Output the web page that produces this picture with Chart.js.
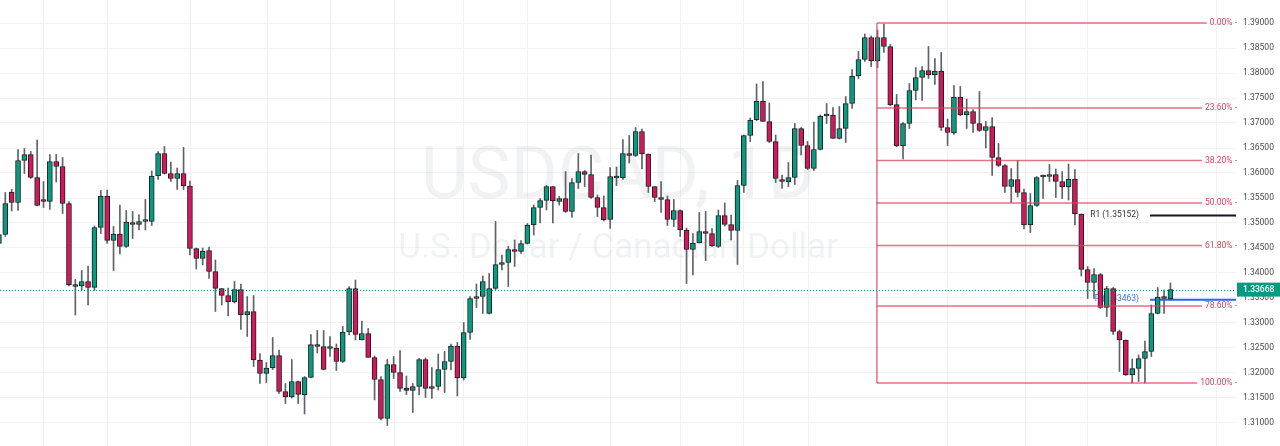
<!DOCTYPE html>
<html>
<head>
<meta charset="utf-8">
<title>USDCAD, 1D</title>
<script src="https://cdn.jsdelivr.net/npm/chart.js@4.4.1/dist/chart.umd.min.js"></script>
<style>
  html, body { margin: 0; padding: 0; background: #fff; overflow: hidden; }
  #wrap { width: 1280px; height: 446px; }
</style>
</head>
<body>
<div id="wrap"><canvas id="chart" width="1280" height="446"></canvas></div>
<script>
// --- DATA (daily candles, left to right) ---
const opens = [
  1.3459, 1.3477, 1.3562, 1.3541, 1.3625, 1.3637, 1.3591, 1.3546, 1.3543, 1.3623,
  1.3613, 1.3539, 1.3377, 1.3374, 1.3383, 1.3371, 1.3491, 1.3554, 1.3465, 1.3478,
  1.3453, 1.3501, 1.3497, 1.3503, 1.3503, 1.3594, 1.3639, 1.3599, 1.3589, 1.3599,
  1.3574, 1.3449, 1.3429, 1.3445, 1.3403, 1.3369, 1.3355, 1.3342, 1.3367, 1.3316,
  1.3323, 1.3226, 1.3199, 1.3210, 1.3235, 1.3163, 1.3152, 1.3183, 1.3156, 1.3191,
  1.3257, 1.3253, 1.3249, 1.3250, 1.3223, 1.3282, 1.3369, 1.3266, 1.3279, 1.3231,
  1.3187, 1.3109, 1.3217, 1.3201, 1.3170, 1.3165, 1.3173, 1.3227, 1.3169, 1.3173,
  1.3207, 1.3223, 1.3254, 1.3190, 1.3281, 1.3349, 1.3353, 1.3319, 1.3369, 1.3417,
  1.3421, 1.3447, 1.3443, 1.3459, 1.3496, 1.3531, 1.3545, 1.3573, 1.3543, 1.3549,
  1.3523, 1.3581, 1.3603, 1.3597, 1.3551, 1.3531, 1.3507, 1.3590, 1.3590, 1.3639,
  1.3635, 1.3683, 1.3638, 1.3573, 1.3551, 1.3547, 1.3507, 1.3525, 1.3486, 1.3447,
  1.3460, 1.3483, 1.3479, 1.3453, 1.3515, 1.3497, 1.3485, 1.3575, 1.3675, 1.3706,
  1.3744, 1.3703, 1.3663, 1.3587, 1.3582, 1.3591, 1.3689, 1.3655, 1.3609, 1.3647,
  1.3714, 1.3716, 1.3669, 1.3689, 1.3739, 1.3794, 1.3827, 1.3871, 1.3824, 1.3871,
  1.3853, 1.3737, 1.3654, 1.3699, 1.3765, 1.3791, 1.3805, 1.3796, 1.3804, 1.3691,
  1.3680, 1.3752, 1.3716, 1.3723, 1.3699, 1.3685, 1.3693, 1.3631, 1.3615, 1.3573,
  1.3587, 1.3561, 1.3496, 1.3535, 1.3592, 1.3593, 1.3597, 1.3583, 1.3572, 1.3588,
  1.3518, 1.3407, 1.3381, 1.3397, 1.3331, 1.3369, 1.3283, 1.3266, 1.3196, 1.3209,
  1.3229, 1.3243, 1.3319, 1.3352, 1.3348
];
const highs = [
  1.3486, 1.3561, 1.3567, 1.3647, 1.3649, 1.3643, 1.3666, 1.3583, 1.3637, 1.3637,
  1.3631, 1.3543, 1.3387, 1.3405, 1.3414, 1.3494, 1.3565, 1.3566, 1.3493, 1.3536,
  1.3525, 1.3523, 1.3517, 1.3547, 1.3604, 1.3643, 1.3653, 1.3622, 1.3610, 1.3651,
  1.3584, 1.3450, 1.3450, 1.3452, 1.3426, 1.3369, 1.3370, 1.3383, 1.3378, 1.3353,
  1.3355, 1.3239, 1.3221, 1.3271, 1.3246, 1.3179, 1.3227, 1.3184, 1.3193, 1.3277,
  1.3285, 1.3285, 1.3273, 1.3258, 1.3293, 1.3373, 1.3386, 1.3304, 1.3289, 1.3234,
  1.3193, 1.3227, 1.3233, 1.3245, 1.3194, 1.3179, 1.3229, 1.3230, 1.3211, 1.3238,
  1.3243, 1.3258, 1.3261, 1.3301, 1.3353, 1.3378, 1.3394, 1.3399, 1.3503, 1.3436,
  1.3453, 1.3466, 1.3465, 1.3499, 1.3536, 1.3549, 1.3575, 1.3573, 1.3553, 1.3603,
  1.3589, 1.3639, 1.3605, 1.3636, 1.3556, 1.3554, 1.3611, 1.3612, 1.3667, 1.3675,
  1.3691, 1.3688, 1.3638, 1.3573, 1.3583, 1.3554, 1.3547, 1.3526, 1.3490, 1.3479,
  1.3521, 1.3523, 1.3489, 1.3526, 1.3540, 1.3516, 1.3585, 1.3676, 1.3710, 1.3778,
  1.3783, 1.3740, 1.3676, 1.3596, 1.3621, 1.3699, 1.3691, 1.3663, 1.3702, 1.3716,
  1.3739, 1.3731, 1.3733, 1.3753, 1.3807, 1.3843, 1.3878, 1.3874, 1.3886, 1.3898,
  1.3857, 1.3757, 1.3701, 1.3779, 1.3811, 1.3813, 1.3853, 1.3829, 1.3841, 1.3708,
  1.3775, 1.3773, 1.3748, 1.3727, 1.3763, 1.3703, 1.3711, 1.3659, 1.3617, 1.3609,
  1.3625, 1.3568, 1.3559, 1.3593, 1.3596, 1.3617, 1.3608, 1.3603, 1.3618, 1.3607,
  1.3518, 1.3413, 1.3409, 1.3399, 1.3373, 1.3371, 1.3286, 1.3266, 1.3228, 1.3236,
  1.3264, 1.3336, 1.3371, 1.3366, 1.3380
];
const lows = [
  1.3456, 1.3473, 1.3524, 1.3525, 1.3599, 1.3589, 1.3534, 1.3531, 1.3527, 1.3582,
  1.3519, 1.3374, 1.3316, 1.3366, 1.3336, 1.3365, 1.3479, 1.3459, 1.3405, 1.3438,
  1.3451, 1.3469, 1.3486, 1.3486, 1.3495, 1.3587, 1.3598, 1.3583, 1.3567, 1.3567,
  1.3436, 1.3408, 1.3416, 1.3389, 1.3323, 1.3336, 1.3314, 1.3340, 1.3287, 1.3273,
  1.3213, 1.3179, 1.3181, 1.3207, 1.3159, 1.3139, 1.3150, 1.3139, 1.3118, 1.3190,
  1.3240, 1.3206, 1.3233, 1.3205, 1.3221, 1.3276, 1.3266, 1.3266, 1.3231, 1.3146,
  1.3106, 1.3095, 1.3189, 1.3163, 1.3157, 1.3121, 1.3156, 1.3151, 1.3149, 1.3166,
  1.3161, 1.3206, 1.3154, 1.3186, 1.3267, 1.3331, 1.3319, 1.3318, 1.3367, 1.3406,
  1.3373, 1.3413, 1.3439, 1.3458, 1.3476, 1.3500, 1.3526, 1.3500, 1.3536, 1.3521,
  1.3511, 1.3569, 1.3573, 1.3549, 1.3513, 1.3504, 1.3489, 1.3575, 1.3587, 1.3620,
  1.3633, 1.3608, 1.3561, 1.3543, 1.3521, 1.3495, 1.3493, 1.3473, 1.3379, 1.3396,
  1.3460, 1.3425, 1.3453, 1.3451, 1.3494, 1.3466, 1.3417, 1.3561, 1.3663, 1.3705,
  1.3703, 1.3661, 1.3581, 1.3569, 1.3573, 1.3577, 1.3636, 1.3607, 1.3605, 1.3646,
  1.3699, 1.3669, 1.3668, 1.3661, 1.3729, 1.3789, 1.3823, 1.3813, 1.3811, 1.3841,
  1.3735, 1.3653, 1.3628, 1.3689, 1.3746, 1.3745, 1.3789, 1.3777, 1.3685, 1.3655,
  1.3677, 1.3715, 1.3689, 1.3681, 1.3683, 1.3650, 1.3595, 1.3613, 1.3561, 1.3541,
  1.3552, 1.3488, 1.3481, 1.3533, 1.3549, 1.3583, 1.3551, 1.3549, 1.3546, 1.3496,
  1.3394, 1.3349, 1.3349, 1.3329, 1.3313, 1.3277, 1.3203, 1.3195, 1.3180, 1.3183,
  1.3180, 1.3233, 1.3318, 1.3319, 1.3346
];
const closes = [
  1.3477, 1.3539, 1.3541, 1.3625, 1.3637, 1.3591, 1.3535, 1.3543, 1.3623, 1.3613,
  1.3539, 1.3376, 1.3373, 1.3383, 1.3371, 1.3491, 1.3554, 1.3465, 1.3478, 1.3453,
  1.3502, 1.3497, 1.3503, 1.3504, 1.3594, 1.3639, 1.3599, 1.3589, 1.3599, 1.3574,
  1.3449, 1.3429, 1.3444, 1.3403, 1.3369, 1.3355, 1.3342, 1.3367, 1.3316, 1.3323,
  1.3226, 1.3199, 1.3210, 1.3235, 1.3163, 1.3152, 1.3183, 1.3157, 1.3191, 1.3257,
  1.3253, 1.3207, 1.3251, 1.3223, 1.3282, 1.3369, 1.3277, 1.3279, 1.3231, 1.3187,
  1.3109, 1.3217, 1.3201, 1.3169, 1.3165, 1.3173, 1.3227, 1.3169, 1.3173, 1.3207,
  1.3223, 1.3254, 1.3190, 1.3281, 1.3349, 1.3353, 1.3383, 1.3369, 1.3417, 1.3421,
  1.3447, 1.3443, 1.3459, 1.3496, 1.3531, 1.3545, 1.3573, 1.3544, 1.3549, 1.3523,
  1.3581, 1.3603, 1.3597, 1.3551, 1.3531, 1.3506, 1.3593, 1.3593, 1.3639, 1.3635,
  1.3683, 1.3638, 1.3573, 1.3551, 1.3547, 1.3507, 1.3525, 1.3486, 1.3447, 1.3460,
  1.3483, 1.3479, 1.3454, 1.3515, 1.3497, 1.3485, 1.3575, 1.3675, 1.3706, 1.3744,
  1.3703, 1.3663, 1.3589, 1.3583, 1.3591, 1.3689, 1.3655, 1.3609, 1.3647, 1.3714,
  1.3716, 1.3669, 1.3689, 1.3739, 1.3794, 1.3827, 1.3871, 1.3824, 1.3871, 1.3853,
  1.3736, 1.3654, 1.3699, 1.3765, 1.3791, 1.3805, 1.3796, 1.3804, 1.3691, 1.3681,
  1.3752, 1.3716, 1.3723, 1.3699, 1.3685, 1.3693, 1.3631, 1.3615, 1.3573, 1.3587,
  1.3561, 1.3496, 1.3535, 1.3591, 1.3595, 1.3597, 1.3583, 1.3572, 1.3588, 1.3518,
  1.3407, 1.3381, 1.3397, 1.3331, 1.3369, 1.3283, 1.3266, 1.3196, 1.3209, 1.3229,
  1.3243, 1.3319, 1.3352, 1.3349, 1.3367
];

// price axis ticks
const tickValues = [1.310, 1.315, 1.320, 1.325, 1.330, 1.335, 1.340, 1.345, 1.350,
                    1.355, 1.360, 1.365, 1.370, 1.375, 1.380, 1.385, 1.390];
// faint vertical time grid (bar index)
const timeGrid = [6.9, 17, 30, 42.1, 52, 62.1, 72.9, 82.9, 96, 107, 116.9, 127, 148.9, 161.2, 170.9, 191.1];

// fibonacci retracement drawing
const fibHigh = 1.3900;
const fibLow = 1.3180;
const fibLevels = [0, 0.236, 0.382, 0.5, 0.618, 0.786, 1];
const fibStartIdx = 137.9;

// pivot points indicator
const pivotR1 = 1.35152;
const pivotP = 1.33463;
const pivotStartIdx = 180.8;

const lastPrice = 1.33668;

// --- COLORS ---
const UP = '#0a9a80';
const DOWN = '#d2185d';
const FIB_LINE = 'rgba(212, 70, 92, 0.75)';
const FIB_TEXT = '#d2465b';

Chart.defaults.font.family = 'Roboto, "DejaVu Sans", sans-serif';

const bars = opens.map((o, i) => i);

// --- helper drawing plugin (watermark, pivots, fib, last price) ---
const overlay = {
    id: 'overlay',
    beforeDatasetsDraw(chart) {
        const { ctx, chartArea: a, scales: { x, y } } = chart;
        ctx.save();
        // vertical time grid
        ctx.strokeStyle = '#f1f1f1';
        ctx.lineWidth = 1;
        timeGrid.forEach(t => {
            const px = Math.round(x.getPixelForValue(t)) + 0.5;
            ctx.beginPath(); ctx.moveTo(px, a.top); ctx.lineTo(px, a.bottom); ctx.stroke();
        });
        // watermark
        const cx = (a.left + a.right) / 2;
        ctx.fillStyle = 'rgba(120, 123, 134, 0.1)';
        ctx.textAlign = 'center';
        ctx.textBaseline = 'alphabetic';
        ctx.font = '72px Roboto';
        ctx.fillText('USDCAD, 1D', cx, 198);
        ctx.font = '35px Roboto';
        ctx.fillText('U.S. Dollar / Canadian Dollar', cx, 258);

        // pivot lines + labels (behind candles)
        const x0 = x.getPixelForValue(pivotStartIdx);
        ctx.font = '8.5px Roboto';
        ctx.textAlign = 'right';
        ctx.textBaseline = 'middle';
        [[pivotR1, '#131722', '#333333', 'R1'], [pivotP, '#2962ff', '#3d6cf0', 'P']].forEach(([v, lc, tc, name]) => {
            const py = y.getPixelForValue(v);
            ctx.strokeStyle = lc;
            ctx.lineWidth = 2;
            ctx.beginPath(); ctx.moveTo(x0, py); ctx.lineTo(a.right, py); ctx.stroke();
            ctx.fillStyle = tc;
            ctx.fillText(name + ' (' + v.toFixed(5) + ')', x0 - 11, py - 0.5);
        });
        ctx.restore();
    },
    afterDatasetsDraw(chart) {
        const { ctx, chartArea: a, scales: { x, y } } = chart;
        ctx.save();
        // fib retracement
        const fx = x.getPixelForValue(fibStartIdx);
        ctx.font = '8.5px Roboto';
        ctx.textAlign = 'right';
        ctx.textBaseline = 'middle';
        ctx.strokeStyle = FIB_LINE;
        ctx.lineWidth = 1.5;
        fibLevels.forEach(l => {
            const py = y.getPixelForValue(fibHigh - (fibHigh - fibLow) * l);
            const label = (l * 100).toFixed(2) + '% -';
            const w = ctx.measureText(label).width;
            const tx = a.right + 1;
            ctx.beginPath(); ctx.moveTo(fx, py); ctx.lineTo(tx - w - 3, py); ctx.stroke();
            ctx.fillStyle = FIB_TEXT;
            ctx.fillText(label, tx, py);
        });
        ctx.beginPath();
        ctx.moveTo(fx, y.getPixelForValue(fibHigh));
        ctx.lineTo(fx, y.getPixelForValue(fibLow));
        ctx.stroke();

        // last price dotted line
        const ly = Math.round(y.getPixelForValue(lastPrice)) + 0.5;
        ctx.strokeStyle = '#089981';
        ctx.lineWidth = 1;
        ctx.setLineDash([1, 2]);
        ctx.beginPath(); ctx.moveTo(a.left, ly); ctx.lineTo(a.right, ly); ctx.stroke();
        ctx.restore();
    },
    afterDraw(chart) {
        const { ctx, chartArea: a, scales: { y } } = chart;
        const ly = y.getPixelForValue(lastPrice);
        ctx.save();
        // top tick label, cut off by the canvas edge like the reference
        ctx.fillStyle = '#4a4a4a';
        ctx.font = '8.5px Roboto';
        ctx.textAlign = 'left';
        ctx.textBaseline = 'middle';
        ctx.fillText('1.39500', a.right + 7, y.getPixelForValue(1.395));
        // last price box on the axis
        ctx.fillStyle = '#089981';
        ctx.fillRect(a.right + 1, ly - 7, 43, 14);
        ctx.fillStyle = '#ffffff';
        ctx.font = '500 8.5px Roboto';
        ctx.fillText(lastPrice.toFixed(5), a.right + 7, ly);
        ctx.restore();
    }
};

new Chart(document.getElementById('chart'), {
    type: 'bar',
    data: {
        datasets: [
            {
                label: 'Body',
                data: bars.map(i => ({ x: i, y: [opens[i], closes[i]] })),
                backgroundColor: bars.map(i => closes[i] >= opens[i] ? UP : DOWN),
                borderColor: '#1d1d1d',
                borderWidth: 1,
                borderSkipped: false,
                barThickness: 5,
                minBarLength: 2,
                grouped: false,
                order: 1
            },
            {
                label: 'Wick',
                data: bars.map(i => ({ x: i, y: [lows[i], highs[i]] })),
                backgroundColor: '#5f6269',
                borderWidth: 0,
                barThickness: 1,
                grouped: false,
                order: 2
            }
        ]
    },
    options: {
        responsive: false,
        devicePixelRatio: 1,
        animation: false,
        layout: { padding: 0 },
        plugins: { legend: { display: false }, tooltip: { enabled: false } },
        scales: {
            x: { type: 'linear', min: 0.168, max: 194.3, offset: false, display: false },
            y: {
                position: 'right',
                min: 1.3054,
                max: 1.3946,
                afterFit(s) { s.width = 44; s.paddingTop = 0; s.paddingBottom = 0; },
                afterBuildTicks(s) { s.ticks = tickValues.map(v => ({ value: v })); },
                ticks: {
                    autoSkip: false,
                    padding: 7,
                    crossAlign: 'near',
                    color: '#4a4a4a',
                    font: { size: 8.5 },
                    callback: v => v.toFixed(5)
                },
                grid: { color: '#f2f2f2', drawTicks: false },
                border: { display: false }
            }
        }
    },
    plugins: [overlay]
});
</script>
</body>
</html>
